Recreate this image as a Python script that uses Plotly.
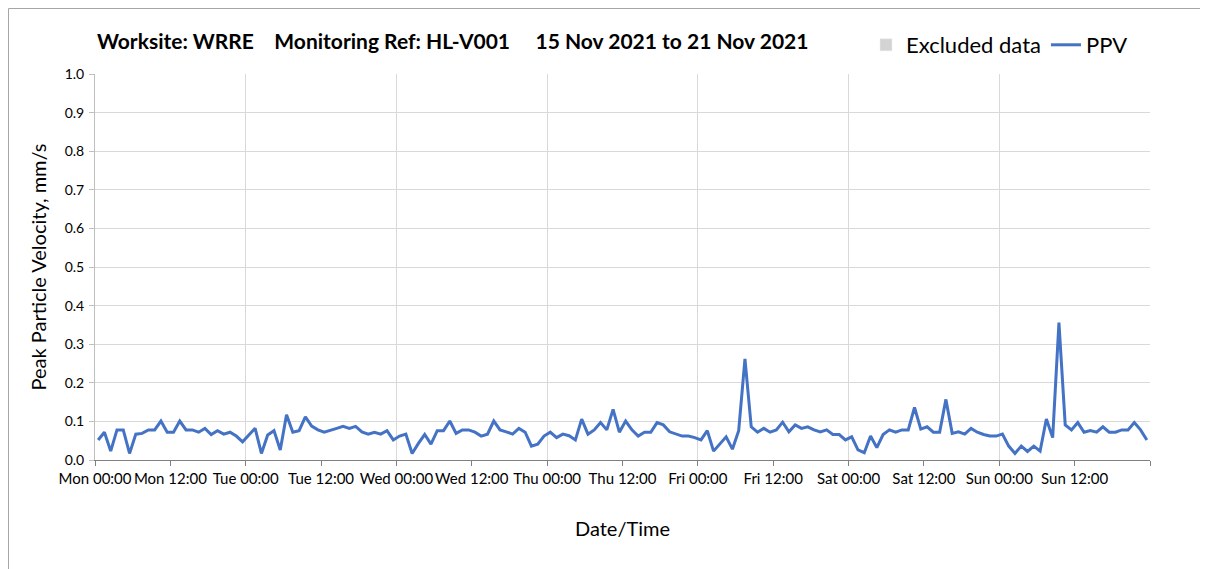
import pandas as pd
import plotly.graph_objects as go

# ---- data ----
start_time = "2021-11-15 00:30"
ppv = [
    0.052, 0.072, 0.023, 0.078, 0.078, 0.017, 0.067, 0.069, 0.078, 0.078, 0.101, 0.072, 0.072,
    0.101, 0.078, 0.078, 0.072, 0.082, 0.066, 0.076, 0.067, 0.072, 0.062, 0.047, 0.065, 0.082,
    0.017, 0.065, 0.076, 0.026, 0.117, 0.072, 0.076, 0.112, 0.088, 0.078, 0.072, 0.078,
    0.082, 0.087, 0.082, 0.087, 0.073, 0.067, 0.072, 0.067, 0.076, 0.052, 0.062, 0.067,
    0.017, 0.043, 0.066, 0.041, 0.076, 0.076, 0.101, 0.069, 0.078, 0.078, 0.072, 0.062,
    0.067, 0.101, 0.078, 0.073, 0.067, 0.082, 0.072, 0.036, 0.041, 0.062, 0.072, 0.058,
    0.067, 0.063, 0.052, 0.106, 0.067, 0.078, 0.097, 0.078, 0.131, 0.072, 0.101, 0.078,
    0.062, 0.072, 0.072, 0.097, 0.091, 0.073, 0.067, 0.062, 0.062, 0.058, 0.052, 0.076,
    0.023, 0.041, 0.060, 0.028, 0.076, 0.262, 0.086, 0.072, 0.082, 0.072, 0.078, 0.098,
    0.073, 0.091, 0.082, 0.086, 0.078, 0.073, 0.078, 0.066, 0.066, 0.052, 0.060, 0.026,
    0.019, 0.062, 0.032, 0.066, 0.078, 0.072, 0.078, 0.078, 0.136, 0.080, 0.086, 0.072,
    0.072, 0.157, 0.069, 0.073, 0.067, 0.082, 0.072, 0.066, 0.062, 0.062, 0.067, 0.036,
    0.017, 0.036, 0.022, 0.036, 0.023, 0.106, 0.058, 0.356, 0.091, 0.078, 0.097,
    0.072, 0.076, 0.072, 0.086, 0.072, 0.072, 0.078, 0.078, 0.097, 0.078, 0.052,
]
times = pd.date_range(start_time, periods=len(ppv), freq="h")

tick_vals = pd.date_range("2021-11-15 00:00", "2021-11-22 00:00", freq="12h")
tick_text = ["Mon 00:00", "Mon 12:00", "Tue 00:00", "Tue 12:00", "Wed 00:00", "Wed 12:00",
             "Thu 00:00", "Thu 12:00", "Fri 00:00", "Fri 12:00", "Sat 00:00", "Sat 12:00",
             "Sun 00:00", "Sun 12:00", ""]
day_vals = pd.date_range("2021-11-15 00:00", "2021-11-22 00:00", freq="D")
y_ticks = [round(0.1 * k, 1) for k in range(11)]

FONT = "Lato"
GRID = "#d9d9d9"
AXIS = "#bfbfbf"

fig = go.Figure()
fig.add_trace(go.Bar(x=[None], y=[None], name="Excluded data",
                     marker=dict(color="#d3d3d3"), showlegend=True))
fig.add_trace(go.Scatter(x=times, y=ppv, mode="lines", name="PPV",
                         line=dict(color="#4472C4", width=3)))

OFF = 8  # page body margin
W, H = 1208 - OFF, 569 - OFF
PX0, PX1, PY0, PY1 = 95, 1150, 74, 460  # plot area in page pixels
L, T = PX0 - OFF, PY0 - OFF
R, B = W - (PX1 - OFF), H - (PY1 - OFF)
pw, ph = PX1 - PX0, PY1 - PY0

def px_x(p):
    return (p - PX0) / pw

def px_y(p):
    return (PY1 - p) / ph

NB = "\u00a0"
fig.update_layout(
    width=W, height=H,
    margin=dict(l=L, r=R, t=T, b=B, pad=0, autoexpand=False),
    paper_bgcolor="white", plot_bgcolor="white",
    font=dict(family=FONT, color="#000000", size=15),
    title=dict(
        text="<b>Worksite: WRRE" + NB * 4 + "Monitoring Ref: HL-V001" + NB * 5 + "15 Nov 2021 to 21 Nov 2021</b>",
        x=px_x(97), xanchor="left", xref="paper",
        y=1 - (42 - OFF) / H, yanchor="middle", yref="container",
        font=dict(family=FONT, size=21, color="#000000"),
    ),
    showlegend=True,
    legend=dict(orientation="h", x=px_x(866), xanchor="left", y=px_y(45), yanchor="middle",
                font=dict(family=FONT, size=22, color="#000000"),
                bgcolor="rgba(0,0,0,0)", itemwidth=30, traceorder="normal"),
    xaxis=dict(
        type="date", automargin=False,
        range=[tick_vals[0], tick_vals[-1]],
        tickvals=list(tick_vals), ticktext=tick_text, tickangle=0,
        ticks="outside", ticklen=5, tickcolor="#808080",
        showgrid=False, zeroline=False,
        showline=True, linecolor="#808080", linewidth=1,
        tickfont=dict(family=FONT, size=15),
        minor=dict(tickvals=list(day_vals), showgrid=True, gridcolor=GRID, gridwidth=1, ticks=""),
        title=dict(text="Date/Time", font=dict(family=FONT, size=20), standoff=35),
    ),
    yaxis=dict(
        range=[0, 1.0], automargin=False,
        tickvals=y_ticks, tickformat=".1f",
        ticks="outside", ticklen=5, tickcolor=AXIS,
        ticklabelstandoff=2,
        showgrid=True, gridcolor=GRID, gridwidth=1,
        zeroline=False, showline=True, linecolor=AXIS, linewidth=1,
        tickfont=dict(family=FONT, size=14),
        title=dict(text="Peak Particle Velocity, mm/s", font=dict(family=FONT, size=20), standoff=12),
    ),
    shapes=[dict(type="rect", xref="paper", yref="paper",
                 x0=px_x(OFF + 0.5), x1=px_x(1201), y0=px_y(620), y1=px_y(OFF + 0.5),
                 line=dict(color="#a6a6a6", width=1), fillcolor="rgba(0,0,0,0)", layer="below")],
)

fig.write_html("out.html")
